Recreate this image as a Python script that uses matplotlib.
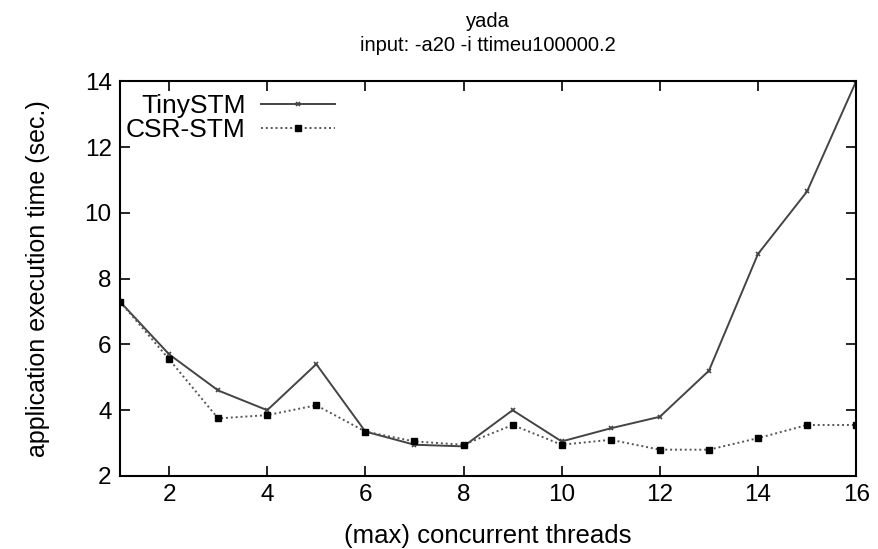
import matplotlib
matplotlib.use("Agg")
import matplotlib.pyplot as plt

threads = list(range(1, 17))
tinystm = [7.3, 5.7, 4.6, 4.0, 5.4, 3.35, 2.95, 2.9, 4.0, 3.05, 3.45, 3.8, 5.2, 8.75, 10.65, 14.0]
csrstm = [7.3, 5.55, 3.75, 3.85, 4.15, 3.35, 3.05, 2.95, 3.55, 2.95, 3.1, 2.8, 2.8, 3.15, 3.55, 3.55]

plt.rcParams['font.family'] = ['Liberation Sans', 'DejaVu Sans']

fig = plt.figure(figsize=(8.79, 5.49), dpi=100)
ax = fig.add_axes([0.1365, 0.133, 0.8375, 0.719])

ax.plot(threads, tinystm, color="#444444", linewidth=1.4, marker="x", markersize=3,
        markeredgewidth=1.2, label="TinySTM")
ax.plot(threads, csrstm, color="#555555", linewidth=1.4, linestyle=(0, (1, 1.5)),
        marker="s", markersize=4.5, markerfacecolor="black", markeredgecolor="black",
        label="CSR-STM")

ax.set_xlim(1, 16)
ax.set_ylim(2, 14)
ax.set_xticks(range(2, 17, 2))
ax.set_yticks(range(2, 15, 2))
ax.tick_params(direction="in", top=True, right=True, length=7, width=1.2, labelsize=17.5, pad=6)
for s in ax.spines.values():
    s.set_linewidth(1.5)

ax.set_xlabel("(max) concurrent threads", fontsize=18.5, labelpad=13)
ax.set_ylabel("application execution time (sec.)", fontsize=18, labelpad=25)
ax.set_title("yada\ninput: -a20 -i ttimeu100000.2", fontsize=14.5, pad=22, linespacing=1.3)

leg = ax.legend(loc="upper left", bbox_to_anchor=(-0.01, 1.0), frameon=False, markerfirst=False,
                fontsize=19, handlelength=2.8, borderaxespad=0.1, labelspacing=0.0,
                handletextpad=0.6)
for t in leg.get_texts():
    t.set_ha("right")

fig.savefig("out.png", dpi=100)
